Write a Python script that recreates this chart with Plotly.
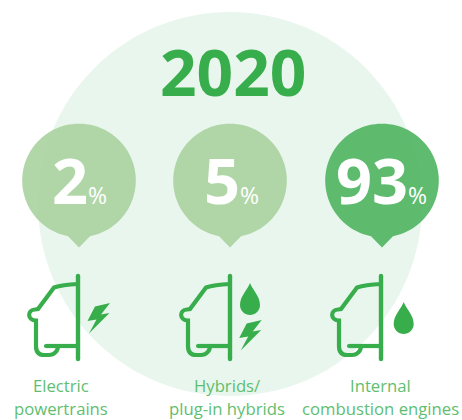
import numpy as np
import plotly.graph_objects as go

# Chart content
year = "2020"
categories = [["Electric", "powertrains"], ["Hybrids/", "plug-in hybrids"], ["Internal", "combustion engines"]]
shares = [2, 5, 93]

# Page layout, in pixels
bubble_x = [79, 230, 382]
value_x = [79.5, 231, 381.5]
bubble_fill = ["rgba(170,211,161,0.92)", "rgba(170,211,161,0.92)", "rgba(81,181,99,0.92)"]
car_offset = [0, 152, 303]
label_x = [60.5, 227, 380.5]
GREEN = "#38ad4c"
LABEL_GREEN = "#5fbe70"
HALO = "#e9f6ed"
font = "Open Sans"

shapes = []


def add_path(d, fill=None, line=None, width=0):
    shapes.append(dict(
        type="path", path=d, xref="x", yref="y",
        fillcolor=fill if fill else "rgba(0,0,0,0)",
        line=dict(color=line if line else "rgba(0,0,0,0)", width=width),
        layer="below",
    ))


def add_dot(x, y, r, fill):
    shapes.append(dict(type="circle", xref="x", yref="y", x0=x - r, x1=x + r, y0=y - r, y1=y + r,
                       fillcolor=fill, line=dict(width=0), layer="below"))


def speech_bubble(cx, fill):
    # Circle with a small pointer at its foot
    cy, r = 180.5, 56.8
    half = np.arcsin(11 / r)
    a = np.linspace(np.pi / 2 + half, 2.5 * np.pi - half, 120)
    pts = [f"{cx + r * np.cos(t):.2f},{cy + r * np.sin(t):.2f}" for t in a]
    add_path("M" + " L".join(pts) + f" L{cx},247.5 Z", fill=fill)


def car(dx):
    d = (f"M{78 + dx},284 C{68 + dx},284.5 {60 + dx},285.5 {54 + dx},287.5 "
         f"L{38 + dx},309 L{35 + dx},309.5 C{27 + dx},310 {27 + dx},320 {36 + dx},320.5 "
         f"L{36 + dx},346 C{36 + dx},352 {39 + dx},355 {44 + dx},355 L{49 + dx},355 "
         f"C{54 + dx},355 {58 + dx},351 {58 + dx},346")
    add_path(d, line=GREEN, width=4.2)
    add_path(f"M{78 + dx},276 L{78 + dx},359", line=GREEN, width=4.4)
    add_path(f"M{46 + dx},346 L{78 + dx},346", line=GREEN, width=4.2)
    add_dot(78 + dx, 276, 2.2, GREEN)
    add_dot(78 + dx, 359, 2.2, GREEN)
    add_dot(46 + dx, 346, 2.1, GREEN)


def bolt(x, y):
    # (x, y) is the upper right point of the flash
    pts = [(0, 0), (-15, 3.5), (-22.5, 18), (-13.5, 16.5), (-21, 30.5), (-0.5, 10), (-9, 11.5)]
    add_path("M" + " L".join(f"{x + a:.1f},{y + b:.1f}" for a, b in pts) + " Z", fill=GREEN)


def drop(x, y):
    add_path(f"M{x},{y} C{x + 2},{y + 6} {x + 10},{y + 13} {x + 10},{y + 22} "
             f"C{x + 10},{y + 28} {x + 5},{y + 32} {x},{y + 32} "
             f"C{x - 5},{y + 32} {x - 10},{y + 28} {x - 10},{y + 22} "
             f"C{x - 10},{y + 13} {x - 2},{y + 6} {x},{y} Z", fill=GREEN)


# Background disc
shapes.append(dict(type="circle", xref="x", yref="y", x0=38, x1=422, y0=12, y1=396,
                   fillcolor=HALO, line=dict(width=0), layer="below"))

for cx, fill in zip(bubble_x, bubble_fill):
    speech_bubble(cx, fill)

for dx in car_offset:
    car(dx)

bolt(110, 303)
drop(250, 283)
bolt(261.7, 320)
drop(403.7, 302)

annotations = [dict(
    x=232.5, y=71.5, xref="x", yref="y", text=f"<b>{year}</b>", showarrow=False,
    xanchor="center", yanchor="middle",
    font=dict(family=font, size=64, color=GREEN),
)]

for x, value in zip(value_x, shares):
    annotations.append(dict(
        x=x, y=179.5, xref="x", yref="y",
        text=f"<b>{value}</b><span style='font-size:23px'>%</span>",
        showarrow=False, xanchor="center", yanchor="middle",
        font=dict(family=font, size=63, color="white"),
    ))

for x, lines in zip(label_x, categories):
    for y, line in zip((385.5, 408.5), lines):
        annotations.append(dict(
            x=x, y=y, xref="x", yref="y", text=line, showarrow=False,
            xanchor="center", yanchor="middle",
            font=dict(family=font, size=16.7, color=LABEL_GREEN),
        ))

fig = go.Figure()
fig.update_layout(
    width=462, height=420,
    margin=dict(l=0, r=0, t=0, b=0),
    paper_bgcolor="white", plot_bgcolor="white",
    showlegend=False,
    xaxis=dict(range=[0, 462], visible=False, fixedrange=True),
    yaxis=dict(range=[420, 0], visible=False, fixedrange=True),
    shapes=shapes, annotations=annotations,
)
fig.write_html("out.html", config=dict(displayModeBar=False))
